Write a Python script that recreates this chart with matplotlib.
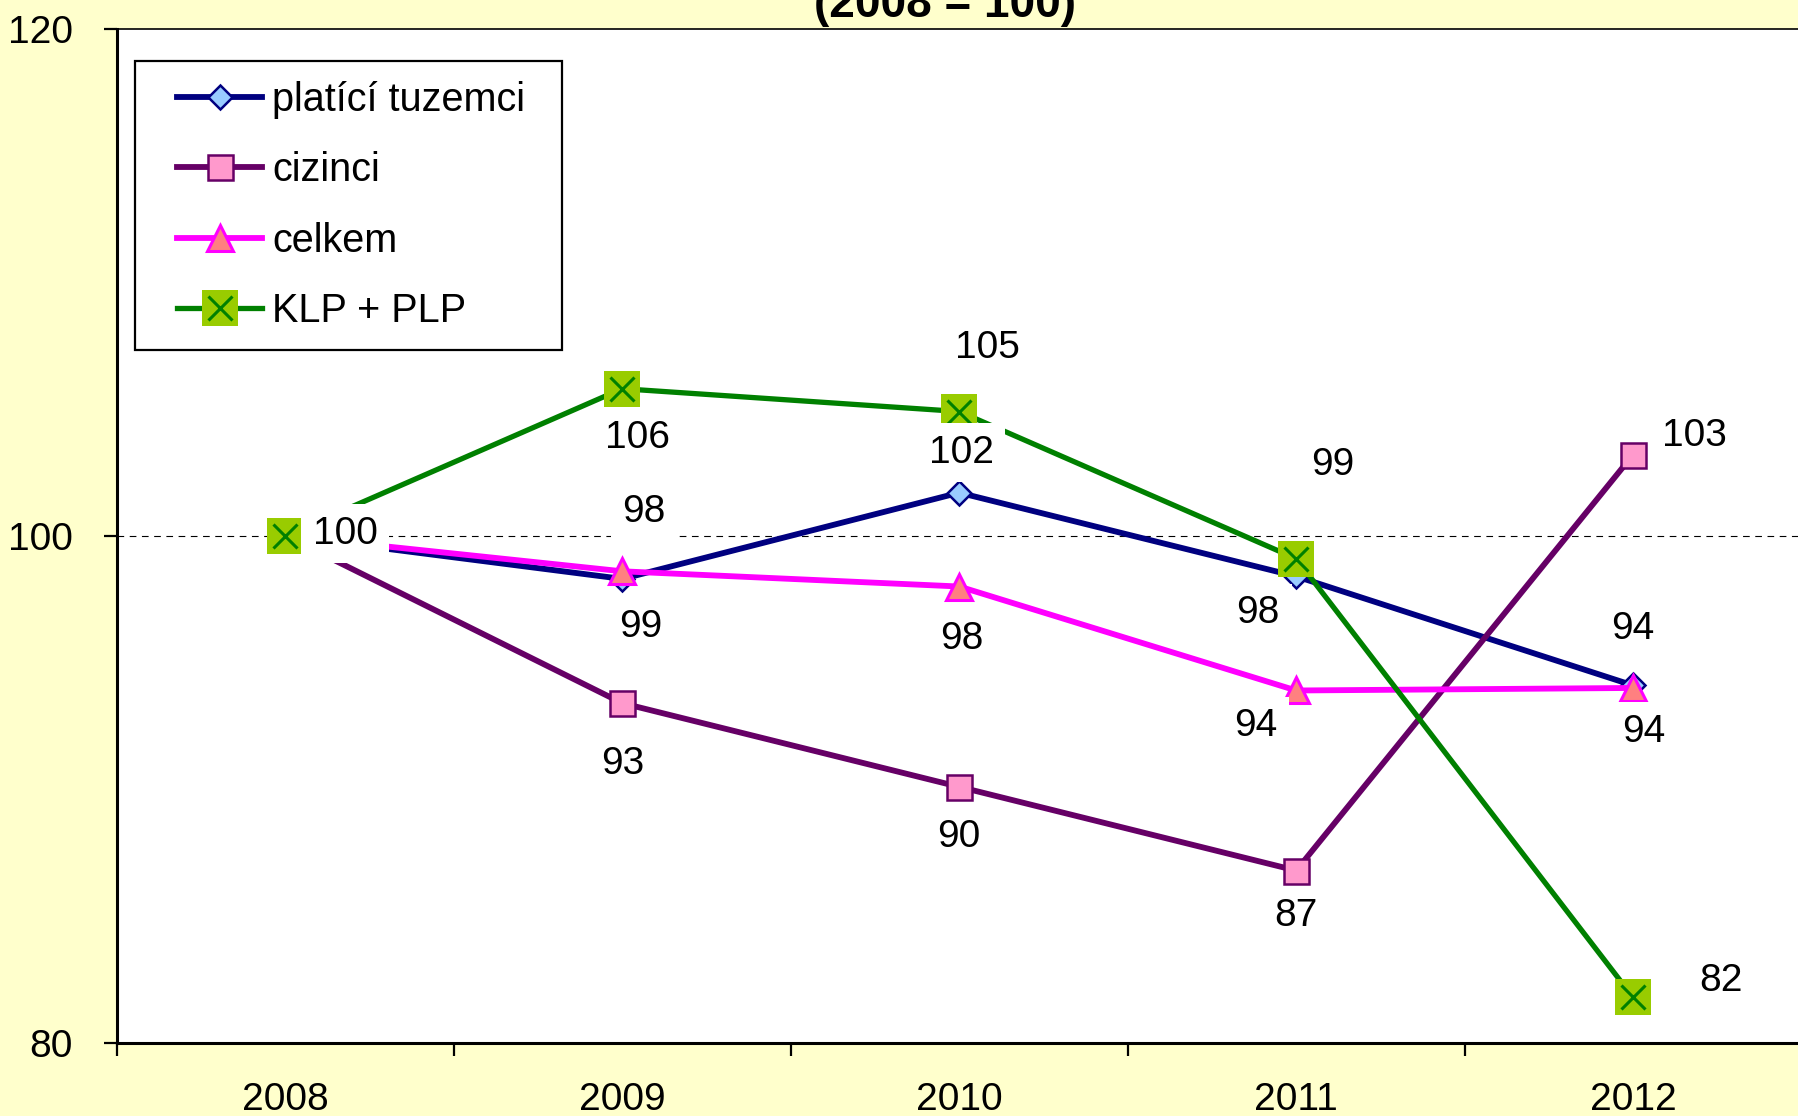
"""Index chart (2008 = 100): platici tuzemci, cizinci, celkem, KLP + PLP."""

import matplotlib

matplotlib.use("Agg")
import matplotlib.pyplot as plt
from matplotlib.legend_handler import HandlerLine2D, HandlerTuple
from matplotlib.lines import Line2D

plt.rcParams["font.family"] = ["Liberation Sans", "DejaVu Sans"]

years = ["2008", "2009", "2010", "2011", "2012"]
platici = [100, 98.3, 101.7, 98.4, 94.1]
cizinci = [100, 93.4, 90.1, 86.8, 103.2]
celkem = [100, 98.6, 98.0, 93.9, 94.0]
klp_plp = [100, 105.8, 104.9, 99.1, 81.8]

series_names = ["platící tuzemci", "cizinci", "celkem", "KLP + PLP"]
title = "(2008 = 100)"

# label offsets in pixels (dx, dy), None = no label drawn
label_offsets = {
    "platici": [(60, 2), (22, 67), (2, 40), (-38, -37), (0, 56)],
    "cizinci": [None, (0, -61), (0, -50), (0, -45), (61, 19)],
    "celkem": [None, (18, -56), (3, -52), (-40, -36), (11, -44)],
    "klp": [None, (15, -49), (28, 64), (37, 94), (88, 16)],
}

FS = 28
x = list(range(len(years)))

fig = plt.figure(figsize=(17.98, 11.16), dpi=100, facecolor="#FFFFCC")
ax = fig.add_axes([0.065, 0.0654, 0.937, 0.909], facecolor="white")

ax.axhline(100, color="black", lw=0.8, ls=(0, (6, 5)), zorder=1)

line_p, = ax.plot(x, platici, color="#000080", lw=4.2, marker="D", ms=12.5,
                  mfc="#99CCFF", mec="#000080", mew=1.8, zorder=3)
line_c, = ax.plot(x, cizinci, color="#660066", lw=4.2, marker="s", ms=18,
                  mfc="#FF99CC", mec="#660066", mew=1.8, zorder=4)
line_t, = ax.plot(x, celkem, color="#FF00FF", lw=4.2, marker="^", ms=18.5,
                  mfc="#FF8080", mec="#FF00FF", mew=2.2, zorder=5)
line_k, = ax.plot(x, klp_plp, color="#008000", lw=3.8, marker="s", ms=25.5,
                  mfc="#99CC00", mew=0, zorder=6)
mark_k, = ax.plot(x, klp_plp, ls="none", marker="x", ms=17, mec="#008000",
                  mew=2.2, zorder=7)

for key, values in [("platici", platici), ("cizinci", cizinci),
                    ("celkem", celkem), ("klp", klp_plp)]:
    for i, v in enumerate(values):
        off = label_offsets[key][i]
        if off is None:
            continue
        ax.annotate(f"{v:.0f}", (i, v), xytext=off, textcoords="offset pixels",
                    ha="center", va="center", fontsize=FS, zorder=10,
                    bbox=dict(boxstyle="square,pad=0.3", fc="white", ec="none"))

ax.set_xlim(-0.5, 4.5)
ax.set_ylim(80, 120)
ax.set_yticks([80, 100, 120])
ax.set_xticks(x)
ax.set_xticklabels(years)
ax.set_xticks([i - 0.5 for i in range(len(years) + 1)], minor=True)
ax.tick_params(axis="x", which="major", length=0, pad=28, labelsize=FS)
ax.tick_params(axis="x", which="minor", length=9.5, width=1.6, direction="out")
ax.tick_params(axis="y", length=9.5, width=1.6, direction="out", pad=22, labelsize=FS)

for side in ["left", "bottom"]:
    ax.spines[side].set_linewidth(2.2)
ax.spines["top"].set_linewidth(1.2)
ax.spines["right"].set_visible(False)

fig.text(945 / 1798, 0.985, title, ha="center", va="baseline",
         fontsize=33, fontweight="bold")

leg = ax.legend([line_p, line_c, line_t, (line_k, mark_k)], series_names,
                loc="upper left",
                bbox_to_anchor=(135 / 1798, 1 - 351 / 1116, 427 / 1798, 290 / 1116),
                bbox_transform=fig.transFigure, mode="expand", borderaxespad=0,
                fontsize=28.5, frameon=True, fancybox=False, edgecolor="black",
                framealpha=1, borderpad=0.5, labelspacing=0.82, handlelength=2.72,
                handletextpad=0.24, numpoints=1,
                handler_map={Line2D: HandlerLine2D(xpad=0.55),
                             tuple: HandlerTuple(ndivide=1, xpad=0.55)})
leg.get_frame().set_linewidth(1.6)
leg.set_zorder(20)

fig.savefig("out.png", dpi=100, facecolor=fig.get_facecolor())
